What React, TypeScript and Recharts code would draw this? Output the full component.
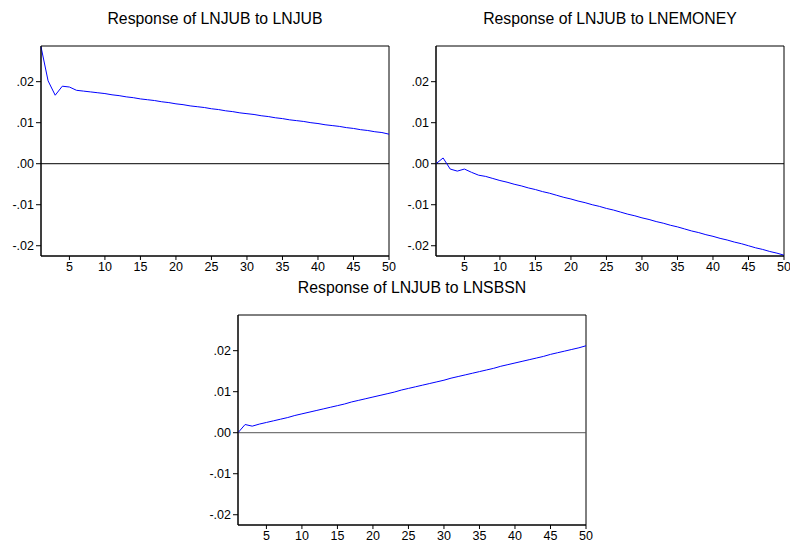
import { LineChart, Line, XAxis, YAxis, ReferenceLine, ReferenceArea } from 'recharts';

// periods 1..50
const periods = Array.from({ length: 50 }, (_, i) => i + 1);

// Response of LNJUB to LNJUB
const toLnjub = [
  0.0285, 0.0202, 0.0167, 0.0189, 0.0187, 0.0179, 0.0177, 0.0175, 0.0173, 0.0171,
  0.0168, 0.0166, 0.0163, 0.0161, 0.0158, 0.0156, 0.0154, 0.0151, 0.0149, 0.0146,
  0.0144, 0.0141, 0.0139, 0.0137, 0.0134, 0.0132, 0.0129, 0.0127, 0.0124, 0.0122,
  0.0120, 0.0117, 0.0115, 0.0112, 0.0110, 0.0107, 0.0105, 0.0103, 0.0100, 0.0098,
  0.0095, 0.0093, 0.0091, 0.0088, 0.0086, 0.0083, 0.0081, 0.0078, 0.0076, 0.0072,
];

// Response of LNJUB to LNEMONEY
const toLnemoney = [
  0.0000, 0.0014, -0.0013, -0.0018, -0.0013, -0.0021, -0.0028, -0.0031, -0.0036, -0.0041,
  -0.0045, -0.0050, -0.0054, -0.0059, -0.0063, -0.0068, -0.0072, -0.0077, -0.0082, -0.0086,
  -0.0091, -0.0095, -0.0100, -0.0104, -0.0109, -0.0113, -0.0118, -0.0123, -0.0127, -0.0132,
  -0.0136, -0.0141, -0.0145, -0.0150, -0.0154, -0.0159, -0.0164, -0.0168, -0.0173, -0.0177,
  -0.0182, -0.0186, -0.0191, -0.0195, -0.0200, -0.0205, -0.0209, -0.0214, -0.0218, -0.0223,
];

// Response of LNJUB to LNSBSN
const toLnsbsn = [
  0.0000, 0.0020, 0.0016, 0.0021, 0.0025, 0.0029, 0.0033, 0.0037, 0.0042, 0.0046,
  0.0050, 0.0054, 0.0058, 0.0062, 0.0066, 0.0070, 0.0075, 0.0079, 0.0083, 0.0087,
  0.0091, 0.0095, 0.0099, 0.0104, 0.0108, 0.0112, 0.0116, 0.0120, 0.0124, 0.0128,
  0.0133, 0.0137, 0.0141, 0.0145, 0.0149, 0.0153, 0.0157, 0.0162, 0.0166, 0.0170,
  0.0174, 0.0178, 0.0182, 0.0186, 0.0191, 0.0195, 0.0199, 0.0203, 0.0207, 0.0212,
];

const xTicks = [5, 10, 15, 20, 25, 30, 35, 40, 45, 50];
const yTicks = [-0.02, -0.01, 0, 0.01, 0.02];
const Y_MIN = -0.0225;
const Y_MAX = 0.0287;

const fmt = (v: number) => v.toFixed(2).replace('0.', '.');
const font = 'Liberation Sans, Arial, sans-serif';

function Panel({ title, values, left, top, zeroColor }: { title: string; values: number[]; left: number; top: number; zeroColor: string }) {
  const data = periods.map((p, i) => ({ p, v: values[i] }));
  return (
    <div style={{ position: 'absolute', left, top, width: 400, height: 280 }}>
      <div style={{ position: 'absolute', left: 21, width: 388, top: 10, textAlign: 'center', fontSize: 15.8, fontFamily: font, color: '#000', whiteSpace: 'nowrap' }}>
        {title}
      </div>
      <LineChart width={400} height={280} data={data} margin={{ top: 46, right: 11, bottom: 4, left: 0 }}>
        <XAxis
          dataKey="p"
          type="number"
          domain={[1, 50]}
          ticks={xTicks}
          interval={0}
          height={20}
          tickSize={4}
          tick={{ fontSize: 12.5, fill: '#000', fontFamily: font }}
          stroke="#000"
        />
        <YAxis
          type="number"
          domain={[Y_MIN, Y_MAX]}
          ticks={yTicks}
          tickFormatter={fmt}
          width={41}
          tickSize={5}
          tickMargin={2}
          tick={{ fontSize: 12.5, fill: '#000', fontFamily: font }}
          stroke="#000"
          allowDataOverflow
        />
        <ReferenceArea x1={1} x2={50} y1={Y_MIN} y2={Y_MAX} fill="none" stroke="#000" strokeWidth={1} />
        <ReferenceLine y={0} stroke={zeroColor} strokeWidth={1} />
        <Line dataKey="v" type="linear" stroke="#0000ff" strokeWidth={1} dot={false} isAnimationActive={false} />
      </LineChart>
    </div>
  );
}

export default function App() {
  return (
    <div style={{ position: 'absolute', left: 0, top: 0, width: 790, height: 544, background: '#fff' }}>
      <Panel title="Response of LNJUB to LNJUB" values={toLnjub} left={0} top={0} zeroColor="#000" />
      <Panel title="Response of LNJUB to LNEMONEY" values={toLnemoney} left={395} top={0} zeroColor="#000" />
      <Panel title="Response of LNJUB to LNSBSN" values={toLnsbsn} left={197} top={269} zeroColor="#555" />
    </div>
  );
}
